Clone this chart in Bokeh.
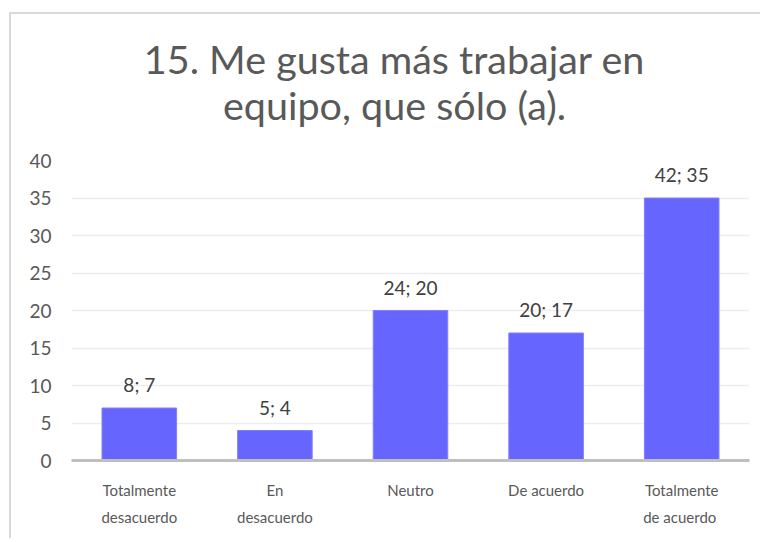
from bokeh.plotting import figure
from bokeh.models import ColumnDataSource, FactorRange, Range1d, FixedTicker
from bokeh.embed import file_html
from bokeh.resources import INLINE

categories = ["Totalmente\ndesacuerdo", "En\ndesacuerdo", "Neutro", "De acuerdo", "Totalmente\nde  acuerdo"]
counts = [8, 5, 24, 20, 42]
percents = [7, 4, 20, 17, 35]
title_lines = ["15. Me gusta más trabajar en", "equipo, que sólo (a)."]

FONT = "Lato"
TXT = "#595959"

src = ColumnDataSource(dict(
    cat=categories,
    pct=percents,
    lab=[f"{c}; {p}" for c, p in zip(counts, percents)],
))

p = figure(x_range=FactorRange(*categories), y_range=Range1d(0, 40),
           width=760, height=538, output_backend="svg", toolbar_location=None,
           min_border_left=71, min_border_right=11, min_border_top=159, min_border_bottom=78)
# light chart-area frame lines (left and top) painted behind a transparent border area
p.styles = {"background": "linear-gradient(#d9d9d9,#d9d9d9) 9px 12px / 2px 100% no-repeat, "
                          "linear-gradient(#d9d9d9,#d9d9d9) 9px 12px / 100% 2px no-repeat, white"}
p.border_fill_color = None
p.outline_line_color = None
p.background_fill_color = "white"
p.x_range.range_padding = 0
p.x_range.factor_padding = 0

p.vbar(x="cat", top="pct", width=0.55, source=src, fill_color="#6666FF", line_color="#8080ff", line_width=1)
p.text(x="cat", y="pct", text="lab", source=src, text_align="center", text_baseline="bottom",
       y_offset=-12, text_font_size="19px", text_color="#404040", text_font={"value": FONT})

p.xgrid.grid_line_color = None
p.ygrid.grid_line_color = "#ededed"
p.ygrid.grid_line_width = 1.5
p.yaxis.ticker = FixedTicker(ticks=[0, 5, 10, 15, 20, 25, 30, 35, 40])
p.yaxis.axis_line_color = None
p.yaxis.major_tick_line_color = None
p.yaxis.minor_tick_line_color = None
p.yaxis.major_label_text_font = FONT
p.yaxis.major_label_text_font_size = "19px"
p.yaxis.major_label_text_color = TXT
p.yaxis.major_label_standoff = 14

p.xaxis.axis_line_color = "#bfbfbf"
p.xaxis.axis_line_width = 3
p.xaxis.major_tick_line_color = None
p.xaxis.minor_tick_line_color = None
p.xaxis.major_label_text_font = FONT
p.xaxis.major_label_text_font_size = "15px"
p.xaxis.major_label_text_line_height = 1.55
p.xaxis.major_label_text_color = TXT
p.xaxis.major_label_standoff = 14

p.title.text = "\n".join(title_lines)
p.title.align = "center"
p.title.text_align = "center"
p.title.text_font = FONT
p.title.text_font_size = "39.5px"
p.title.text_font_style = "normal"
p.title.text_line_height = 0.99
p.title.text_color = TXT
p.title.standoff = 64
p.title.padding = (0, 32, 0, 0)

open("out.html", "w").write(file_html(p, INLINE))
